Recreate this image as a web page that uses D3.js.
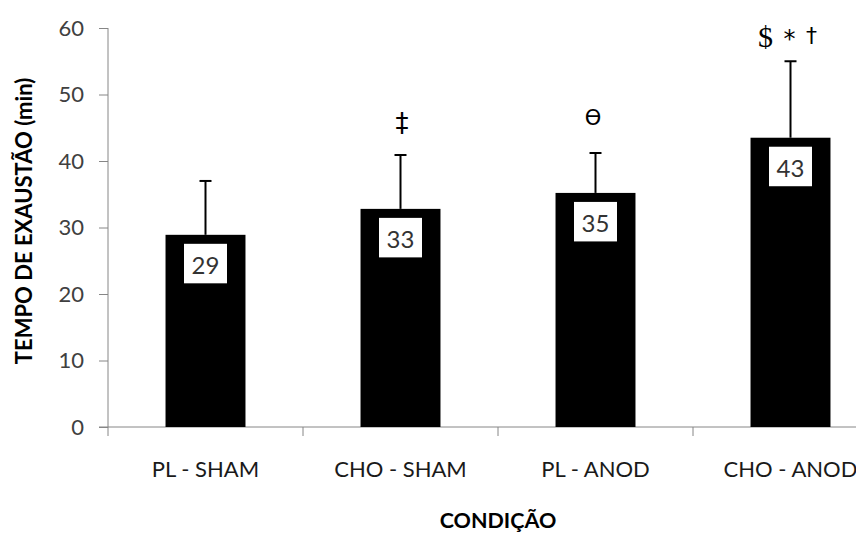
<!DOCTYPE html>
<html><head><meta charset="utf-8">
<script src="https://cdn.jsdelivr.net/npm/d3@7"></script>
<style>body{margin:0;background:#fff}svg{display:block}</style>
</head><body><svg id="c" width="856" height="534"></svg>
<script>
const categories = ["PL - SHAM", "CHO - SHAM", "PL - ANOD", "CHO - ANOD"];
const means = [28.9, 32.8, 35.2, 43.5];
const errUpper = [37.0, 40.9, 41.2, 55.0];
const valueLabels = ["29", "33", "35", "43"];
const yTicks = [0, 10, 20, 30, 40, 50, 60];

const svg = d3.select("#c");
const font = "Lato, 'Open Sans', sans-serif";
const x = d3.scaleBand().domain(categories).range([108, 888]).paddingInner(0.59).paddingOuter(0.295);
const y = d3.scaleLinear().domain([0, 60]).range([427, 28]);
const axisColor = "#868686";

// y axis
const ya = svg.append("g").attr("transform", "translate(108,0)")
  .call(d3.axisLeft(y).tickValues(yTicks).tickSize(9).tickPadding(15));
ya.select(".domain").attr("stroke", axisColor).attr("d", "M0,28V427");
ya.selectAll(".tick line").attr("stroke", axisColor);
ya.selectAll(".tick text").attr("font-family", font).attr("font-size", 22).attr("fill", "#404040");

// x axis
const xa = svg.append("g").attr("transform", "translate(0,427)")
  .call(d3.axisBottom(x).tickSize(0));
xa.select(".domain").attr("stroke", axisColor).attr("d", "M99,0H888");
xa.selectAll(".tick text").attr("font-family", font).attr("font-size", 22).attr("fill", "#1a1a1a")
  .attr("y", 50).attr("dy", 0);
const bounds = categories.map(c => x(c) - (x.step() - x.bandwidth()) / 2).concat([888]);
svg.append("g").selectAll("line").data(bounds).join("line")
  .attr("x1", d => d).attr("x2", d => d).attr("y1", 427).attr("y2", 436)
  .attr("stroke", axisColor);

// bars
const g = svg.append("g");
categories.forEach((c, i) => {
  const cx = x(c) + x.bandwidth() / 2;
  g.append("line").attr("x1", cx).attr("x2", cx).attr("y1", y(means[i])).attr("y2", y(errUpper[i]))
    .attr("stroke", "#000").attr("stroke-width", 2);
  g.append("line").attr("x1", cx - 6).attr("x2", cx + 6).attr("y1", y(errUpper[i])).attr("y2", y(errUpper[i]))
    .attr("stroke", "#000").attr("stroke-width", 2);
  g.append("rect").attr("x", x(c)).attr("y", y(means[i])).attr("width", x.bandwidth())
    .attr("height", y(0) - y(means[i])).attr("fill", "#000");
  g.append("rect").attr("x", cx - 21.5).attr("y", y(means[i]) + 9).attr("width", 43).attr("height", 39.5)
    .attr("fill", "#fff");
  g.append("text").attr("x", cx).attr("y", y(means[i]) + 39.5).attr("text-anchor", "middle")
    .attr("font-family", font).attr("font-size", 24).attr("fill", "#333").text(valueLabels[i]);
});

// significance markers
const cxOf = i => x(categories[i]) + x.bandwidth() / 2;
const sym = "'DejaVu Sans', sans-serif";
svg.append("text").attr("x", cxOf(1) + 1.5).attr("y", y(errUpper[1]) - 22.7).attr("text-anchor", "middle")
  .attr("font-family", sym).attr("font-size", 26).attr("fill", "#000").text("‡");
svg.append("text").attr("x", cxOf(2) - 2.5).attr("y", y(errUpper[2]) - 28).attr("text-anchor", "middle")
  .attr("font-family", sym).attr("font-size", 21).attr("fill", "#000").text("ϴ");
const top4 = y(errUpper[3]);
svg.append("text").attr("x", cxOf(3) - 25).attr("y", top4 - 14).attr("text-anchor", "middle")
  .attr("font-family", "'Liberation Serif', serif").attr("font-size", 30).attr("fill", "#000").text("$");
svg.append("text").attr("x", cxOf(3) - 1).attr("y", top4 - 14).attr("text-anchor", "middle")
  .attr("font-family", sym).attr("font-size", 24).attr("fill", "#000").text("*");
svg.append("text").attr("x", cxOf(3) + 21).attr("y", top4 - 18).attr("text-anchor", "middle")
  .attr("font-family", sym).attr("font-size", 22).attr("fill", "#000").text("†");

// axis titles
svg.append("text").attr("transform", "translate(31.5,221) rotate(-90)").attr("text-anchor", "middle")
  .attr("font-family", font).attr("font-weight", "bold").attr("font-size", 22).attr("fill", "#000")
  .text("TEMPO DE EXAUSTÃO (min)");
svg.append("text").attr("x", 498).attr("y", 528).attr("text-anchor", "middle")
  .attr("font-family", font).attr("font-weight", "bold").attr("font-size", 21.5).attr("fill", "#000")
  .text("CONDIÇÃO");
</script></body></html>
